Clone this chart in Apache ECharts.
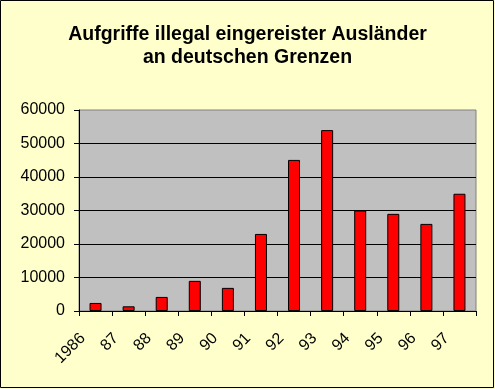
<!DOCTYPE html>
<html>
<head>
<meta charset="utf-8">
<script src="https://cdn.jsdelivr.net/npm/echarts@6/dist/echarts.min.js"></script>
<style>
html,body{margin:0;padding:0;background:#FFFFCC;}
#c{width:495px;height:389px;}
</style>
</head>
<body>
<div id="c"></div>
<script>
var categories = ['1986','87','88','89','90','91','92','93','94','95','96','97'];
var values = [2400, 1400, 4200, 9000, 6900, 23000, 45100, 54000, 30000, 29000, 26000, 35000];
var yTicks = [0, 10000, 20000, 30000, 40000, 50000, 60000];
var titleText = 'Aufgriffe illegal eingereister Ausländer\nan deutschen Grenzen';

var font = 'Liberation Sans, Arial, Helvetica, sans-serif';
var chart = echarts.init(document.getElementById('c'), null, {renderer: 'canvas'});
chart.setOption({
  backgroundColor: '#FFFFCC',
  animation: false,
  title: {
    text: titleText,
    left: 'center',
    top: 23,
    padding: 0,
    textStyle: {fontFamily: font, fontWeight: 'bold', fontSize: 19.5, lineHeight: 23, color: '#000', align: 'center'}
  },
  graphic: [{
    type: 'rect', silent: true, z: 100,
    shape: {x: 0.5, y: 0.5, width: 493, height: 387},
    style: {fill: null, stroke: '#000', lineWidth: 1}
  }],
  grid: {
    left: 79, top: 110, width: 397, height: 201,
    show: true, backgroundColor: '#C0C0C0', borderColor: '#808080', borderWidth: 1,
    containLabel: false, outerBoundsMode: 'none'
  },
  xAxis: {
    type: 'category',
    data: categories,
    axisLine: {lineStyle: {color: '#000', width: 1}},
    axisTick: {show: true, length: 5, inside: false, lineStyle: {color: '#000'}},
    axisLabel: {
      interval: 0, rotate: 45, margin: 12, padding: [0, 18, 0, 0],
      fontFamily: font, fontSize: 16, color: '#000'
    },
    splitLine: {show: false}
  },
  yAxis: {
    type: 'value',
    min: yTicks[0], max: yTicks[yTicks.length - 1], interval: yTicks[1] - yTicks[0],
    axisLine: {show: true, lineStyle: {color: '#000', width: 1}},
    axisTick: {show: true, length: 5, inside: false, lineStyle: {color: '#000'}},
    axisLabel: {margin: 14, fontFamily: font, fontSize: 16, color: '#000', formatter: function (v) { return String(v); }},
    splitLine: {show: true, showMinLine: false, showMaxLine: false, lineStyle: {color: '#000', width: 1}}
  },
  series: [{
    type: 'bar',
    data: values,
    barWidth: 12,
    itemStyle: {color: '#FF0000', borderColor: '#000', borderWidth: 1}
  }]
});
</script>
</body>
</html>
